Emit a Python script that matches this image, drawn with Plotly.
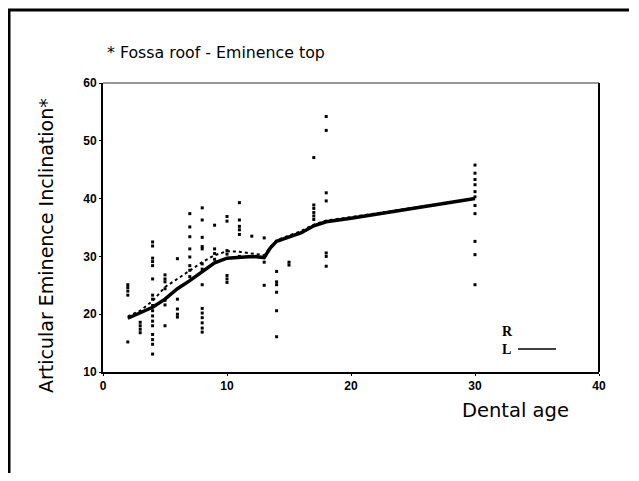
import plotly.graph_objects as go

# ---- data ----
pt_age = ([2]*5 + [3]*4 + [4]*17 + [5]*7 + [6]*5 + [7]*8 + [8]*14 + [9]*4 +
          [10]*7 + [11]*6 + [12]*1 + [13]*3 + [14]*6 + [15]*2 + [17]*6 + [18]*7 + [30]*11)
pt_incl = ([23.3, 24.0, 24.6, 25.1, 15.2] +
           [16.8, 17.4, 18.0, 18.6] +
           [32.5, 31.8, 29.7, 29.1, 28.4, 26.1, 23.3, 22.6, 21.5, 20.6, 19.7, 18.8, 18.0, 16.5, 15.6, 14.8, 13.1] +
           [26.8, 26.1, 25.6, 24.4, 22.4, 21.6, 18.0] +
           [29.6, 22.6, 20.9, 20.0, 19.5] +
           [37.4, 35.1, 33.4, 31.3, 29.9, 28.4, 27.6, 26.5] +
           [38.4, 36.3, 33.3, 31.7, 31.3, 28.7, 27.8, 25.1, 21.0, 20.2, 19.4, 18.5, 17.6, 16.9] +
           [35.4, 31.3, 30.5, 29.5] +
           [36.9, 36.1, 31.0, 30.4, 26.7, 26.1, 25.5] +
           [39.3, 36.3, 35.2, 34.6, 33.8, 30.0] +
           [33.5] +
           [33.2, 29.0, 25.0] +
           [27.4, 25.6, 25.1, 23.8, 20.6, 16.1] +
           [29.0, 28.5] +
           [47.1, 38.9, 38.3, 37.6, 37.0, 36.4] +
           [54.2, 51.8, 41.0, 39.6, 30.6, 30.0, 28.3] +
           [45.8, 44.4, 43.3, 42.4, 41.2, 40.3, 38.8, 37.4, 32.6, 30.3, 25.1])

curve_age = [2, 3, 4, 5, 6, 7, 8, 9, 10, 11, 12, 13, 13.5, 14, 15, 16, 17, 18, 20, 25, 30]
r_curve = [19.6, 20.6, 22.3, 24.7, 26.1, 27.6, 29.0, 30.2, 30.9, 30.8, 30.5, 30.2, 31.6, 32.8,
           33.6, 34.4, 35.5, 36.2, 36.8, 38.4, 40.0]
l_curve = [19.3, 20.2, 21.2, 22.6, 24.4, 25.8, 27.3, 28.9, 29.7, 29.9, 30.0, 29.8, 31.5, 32.6,
           33.3, 34.1, 35.3, 36.0, 36.6, 38.3, 40.0]

x_ticks = [0, 10, 20, 30, 40]
y_ticks = [10, 20, 30, 40, 50, 60]

fig = go.Figure()
fig.add_trace(go.Scatter(x=pt_age, y=pt_incl, mode="markers",
                         marker=dict(symbol="square", size=3, color="black"),
                         showlegend=False))
fig.add_trace(go.Scatter(x=curve_age, y=r_curve, mode="lines",
                         line=dict(color="black", width=2, dash="dot"),
                         showlegend=False))
fig.add_trace(go.Scatter(x=curve_age, y=l_curve, mode="lines",
                         line=dict(color="black", width=3.5),
                         showlegend=False))

tickfont = dict(family="Liberation Sans", size=12, color="black", weight="bold")
fig.update_xaxes(range=[0, 40], tickvals=x_ticks, showgrid=False, zeroline=False,
                 showline=True, linecolor="black", linewidth=2,
                 ticks="outside", ticklen=2, tickcolor="black", tickfont=tickfont)
fig.update_yaxes(range=[10, 60], tickvals=y_ticks, showgrid=False, zeroline=False,
                 showline=True, linecolor="black", linewidth=2,
                 ticks="outside", ticklen=2, tickcolor="black", tickfont=tickfont)

# page offset of 8px (body margin) is taken into account
OFF = 8
FW, FH = 639 - 2 * OFF, 481 - 2 * OFF
PW, PH, L, T = 496, 289, 103 - OFF, 83 - OFF
def px(x):
    return (x - OFF - L) / PW
def py(y):
    return (T + PH - (y - OFF)) / PH

shapes = [
    dict(type="line", xref="paper", yref="paper", x0=1, x1=1, y0=0, y1=1,
         line=dict(color="black", width=2)),
    dict(type="line", xref="paper", yref="paper", x0=0, x1=1, y0=1, y1=1,
         line=dict(color="#333", width=1.2)),
    dict(type="line", xref="paper", yref="paper", x0=px(7), x1=px(629), y0=py(10), y1=py(10),
         line=dict(color="black", width=3)),
    dict(type="line", xref="paper", yref="paper", x0=px(9), x1=px(9), y0=py(9), y1=py(480),
         line=dict(color="black", width=3)),
    dict(type="line", xref="paper", yref="paper", x0=px(518), x1=px(556), y0=py(349), y1=py(349),
         line=dict(color="black", width=1.5)),
]

annotations = [
    dict(text="* Fossa roof - Eminence top", xref="paper", yref="paper",
         x=px(105), y=py(53), xanchor="left", yanchor="middle", showarrow=False,
         font=dict(family="DejaVu Sans", size=15.8, color="black")),
    dict(text="Articular Eminence Inclination*", xref="paper", yref="paper",
         x=px(46), y=py(246), xanchor="center", yanchor="middle", textangle=-90, showarrow=False,
         font=dict(family="DejaVu Sans", size=19, color="black")),
    dict(text="Dental age", xref="paper", yref="paper",
         x=px(515), y=py(410), xanchor="center", yanchor="middle", showarrow=False,
         font=dict(family="DejaVu Sans", size=19.5, color="black")),
    dict(text="<b>R</b>", xref="paper", yref="paper",
         x=px(500), y=py(331), xanchor="left", yanchor="middle", showarrow=False,
         font=dict(family="Liberation Serif", size=14, color="black")),
    dict(text="<b>L</b>", xref="paper", yref="paper",
         x=px(500), y=py(349), xanchor="left", yanchor="middle", showarrow=False,
         font=dict(family="Liberation Serif", size=14, color="black")),
]

fig.update_layout(width=FW, height=FH,
                  margin=dict(l=L, r=FW - L - PW, t=T, b=FH - T - PH),
                  paper_bgcolor="white", plot_bgcolor="white",
                  shapes=shapes, annotations=annotations, showlegend=False)

fig.write_html("out.html")
